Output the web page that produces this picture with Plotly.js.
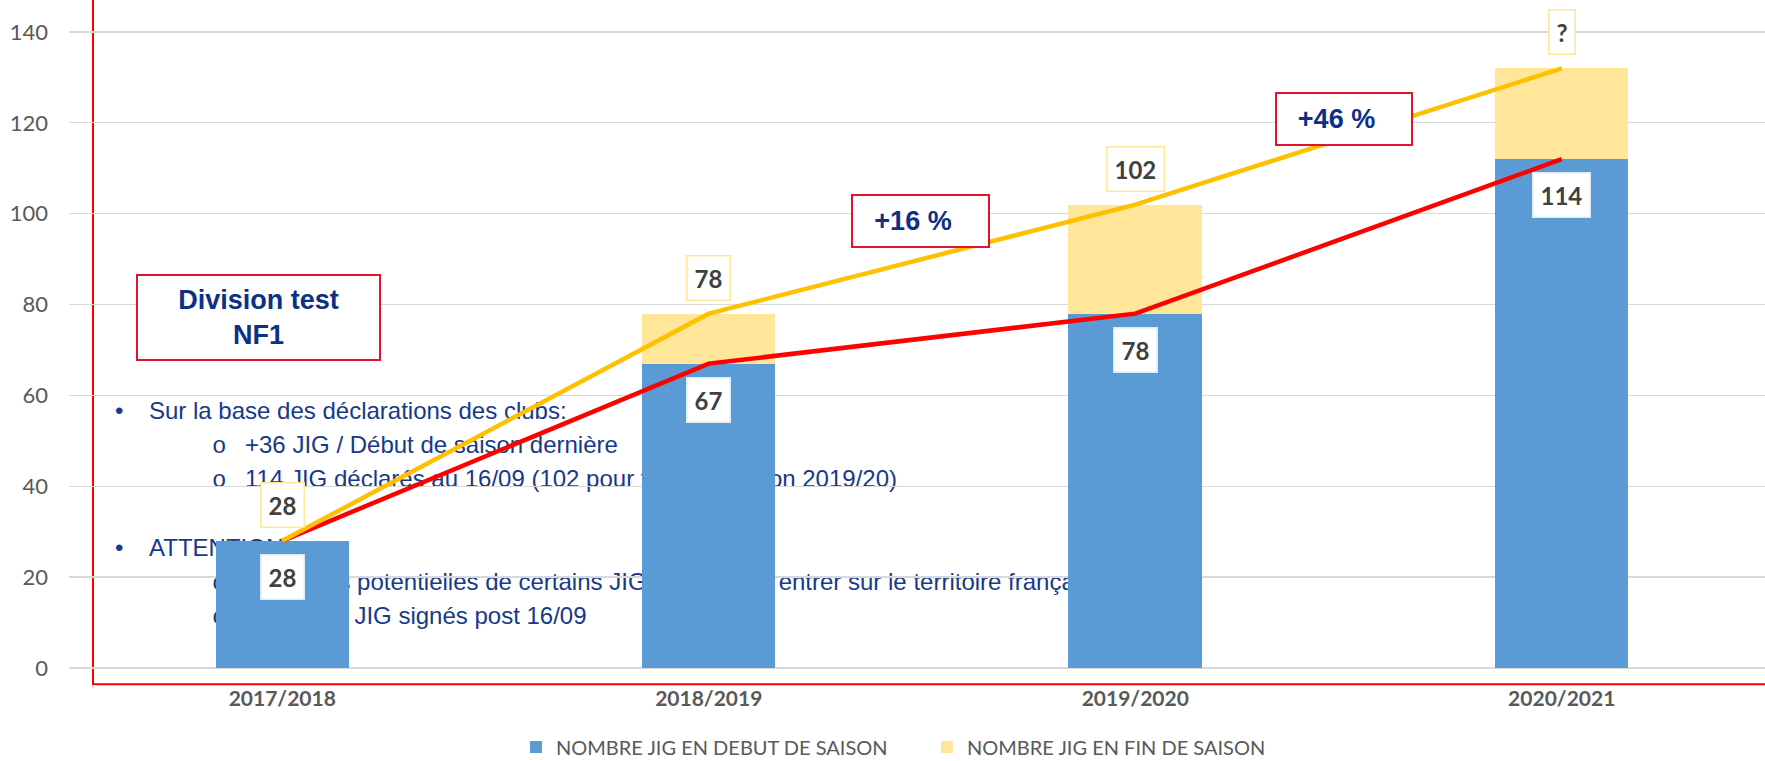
<!DOCTYPE html>
<html><head><meta charset="utf-8">
<script src="https://cdn.plot.ly/plotly-3.0.1.min.js"></script>
<style>html,body{margin:0;padding:0;background:#fff}#chart{width:1765px;height:761px}</style>
</head><body><div id="chart"></div>
<script>
// ---- data ----
const seasons = ['2017/2018', '2018/2019', '2019/2020', '2020/2021'];
const debutSaison = [28, 67, 78, 112];
const finSaisonExtra = [0, 11, 24, 20];
const finSaisonTotal = [28, 78, 102, 132];
const debutLabels = ['28', '67', '78', '114'];
const finLabels = ['28', '78', '102', '?'];
const seriesNames = ['NOMBRE JIG EN DEBUT DE SAISON', 'NOMBRE JIG EN FIN DE SAISON'];
const yTicks = [0, 20, 40, 60, 80, 100, 120, 140];
const noteBullets = ['•', 'o', 'o', '•', 'o', 'o'];
const noteLines = [
  'Sur la base des déclarations des clubs:',
  '+36 JIG / Début de saison dernière',
  '114 JIG déclarés au 16/09 (102 pour toute la saison 2019/20)',
  'ATTENTION :',
  'Absences potentielles de certains JIG ne pouvant entrer sur le territoire français',
  'Possibles JIG signés post 16/09'
];
const boxTexts = ['Division test<br>NF1', '+16 %&nbsp;&nbsp;', '+46 %&nbsp;&nbsp;'];

// ---- geometry / style ----
const W = 1765, H = 761, ML = 69, MB = 93;
const PW = W - ML, PH = H - MB;
const px = x => (x - ML) / PW;
const py = y => (PH - y) / PH;
const CAL = 'Lato, "Open sans", sans-serif';
const ARI = '"Liberation Sans", Arial, sans-serif';
const NAVY = '#0B3187';
const TEXTBLUE = '#17398A';
const GREY = '#595959';
const BLUE = '#5B9BD5', PALE = '#FFE699', GOLD = '#FFC000', RED = '#FF0000', BOXRED = '#E2132D';

const traces = [
  {type: 'bar', x: seasons, y: debutSaison, name: seriesNames[0], marker: {color: BLUE},
   width: 0.313, hoverinfo: 'skip'},
  {type: 'bar', x: seasons, y: finSaisonExtra, name: seriesNames[1], marker: {color: PALE},
   width: 0.313, hoverinfo: 'skip'},
  {type: 'scatter', mode: 'lines', x: seasons, y: debutSaison, showlegend: false,
   line: {color: RED, width: 4.5}, hoverinfo: 'skip'},
  {type: 'scatter', mode: 'lines', x: seasons, y: finSaisonTotal, showlegend: false,
   line: {color: GOLD, width: 4.5}, hoverinfo: 'skip'}
];

const annotations = [];
seasons.forEach((s, i) => {
  annotations.push({x: s, y: debutSaison[i], xref: 'x', yref: 'y', text: debutLabels[i],
    showarrow: false, yshift: -36, xanchor: 'center', yanchor: 'middle',
    font: {family: CAL, size: 24, color: '#404040', weight: 700},
    bgcolor: '#FFFFFF', bordercolor: '#DCE9F6', borderwidth: 1.5, borderpad: 7});
  annotations.push({x: s, y: finSaisonTotal[i], xref: 'x', yref: 'y', text: finLabels[i],
    showarrow: false, yshift: 36, xanchor: 'center', yanchor: 'middle',
    font: {family: CAL, size: 24, color: '#404040', weight: 700},
    bgcolor: '#FFFFFF', bordercolor: PALE, borderwidth: 1.5, borderpad: 7});
});
const boxPos = [
  {x: 258.3, y: 317.5, w: 241, h: 83},
  {x: 920.3, y: 220.5, w: 135, h: 50},
  {x: 1344, y: 118.7, w: 134, h: 50}
];
boxTexts.forEach((t, i) => {
  const b = boxPos[i];
  annotations.push({xref: 'paper', yref: 'paper', x: px(b.x), y: py(b.y), text: t,
    showarrow: false, xanchor: 'center', yanchor: 'middle', width: b.w, height: b.h,
    align: 'center', valign: 'middle',
    font: {family: ARI, size: 27, color: NAVY, weight: 700},
    bgcolor: '#FFFFFF', bordercolor: BOXRED, borderwidth: 2, borderpad: 0});
});

const shapes = [];
// red outline frame (behind chart)
shapes.push({type: 'rect', xref: 'paper', yref: 'paper', x0: px(93), x1: 1.2, y0: py(684.3), y1: 1.3,
  line: {color: RED, width: 2}, fillcolor: 'rgba(0,0,0,0)', layer: 'below'});
const noteY = [408, 442, 476.5, 545, 579, 613];
const bulletX = [112, 209, 209, 112, 209, 209];
const textX = [146, 242, 242, 146, 242, 242];
noteLines.forEach((t, i) => {
  const isDot = noteBullets[i] === '•';
  shapes.push({type: 'rect', xref: 'paper', yref: 'paper', layer: 'below',
    x0: px(bulletX[i]), x1: px(bulletX[i] + 20), y0: py(noteY[i] + 12), y1: py(noteY[i] - 12),
    line: {width: 0}, fillcolor: 'rgba(0,0,0,0)',
    label: {text: noteBullets[i], textposition: 'middle left', padding: 0,
      font: {family: isDot ? ARI : '"Liberation Mono", monospace', size: 24, color: TEXTBLUE}}});
  shapes.push({type: 'rect', xref: 'paper', yref: 'paper', layer: 'below',
    x0: px(textX[i]), x1: px(textX[i] + 40), y0: py(noteY[i] + 12), y1: py(noteY[i] - 12),
    line: {width: 0}, fillcolor: 'rgba(0,0,0,0)',
    label: {text: t, textposition: 'middle left', padding: 0,
      font: {family: ARI, size: 24, color: TEXTBLUE}}});
});

const layout = {
  width: W, height: H,
  margin: {l: ML, r: 0, t: 0, b: MB, pad: 0, autoexpand: false},
  paper_bgcolor: '#FFFFFF', plot_bgcolor: 'rgba(0,0,0,0)',
  barmode: 'stack', bargap: 0,
  showlegend: true,
  legend: {orientation: 'h', x: px(516), y: py(747), xanchor: 'left', yanchor: 'middle',
    font: {family: CAL, size: 20, color: GREY}, entrywidth: 366, traceorder: 'normal',
    bgcolor: 'rgba(0,0,0,0)'},
  xaxis: {type: 'category', range: [-0.5, 3.4766], showgrid: false, showline: false, zeroline: false,
    ticks: '', ticklabelstandoff: 16, fixedrange: true, automargin: false,
    tickfont: {family: CAL, size: 21, color: GREY, weight: 700}},
  yaxis: {range: [0, 147.04], tickvals: yTicks, ticktext: yTicks.map(String), showgrid: true,
    gridcolor: '#D9D9D9', gridwidth: 1.3, zeroline: true, zerolinecolor: '#D9D9D9', zerolinewidth: 1.3,
    showline: false, ticks: '', ticklabelstandoff: 20, fixedrange: true, automargin: false,
    tickfont: {family: CAL, size: 22, color: GREY}},
  annotations: annotations,
  shapes: shapes
};

Plotly.newPlot('chart', traces, layout, {displayModeBar: false, staticPlot: true});
</script>
</body></html>
